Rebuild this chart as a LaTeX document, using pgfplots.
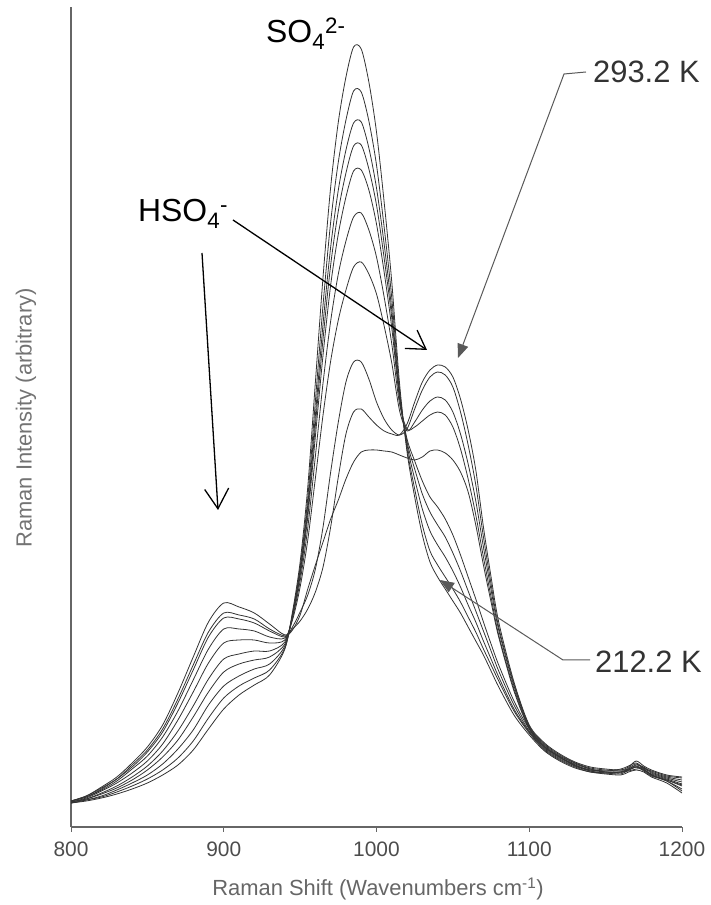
\documentclass[border=0pt]{standalone}
\usepackage{fontspec}
\setmainfont{Liberation Sans}
\usepackage{pgfplots}
\pgfplotsset{compat=1.18}
\usepackage{pgfplotstable}
\usetikzlibrary{arrows.meta}

\pgfplotstableread{
x k0 k1 k2 k3 k4 k5 k6 k7 k8 k9
800 24 24 24 25 25 25 26 26 26 26
810 26 27 27 28 28 29 30 30 31 31
820 29 30 31 33 34 36 37 38 40 39
830 33 35 37 39 41 44 46 48 50 48
840 38 41 44 47 50 54 58 60 64 62
850 44 48 52 57 61 66 71 75 80 77
860 52 57 63 70 76 83 90 95 102 98
870 62 69 78 87 96 107 116 124 134 128
880 77 86 97 110 121 135 147 157 170 162
890 98 109 122 135 148 164 178 190 205 195
900 118 129 141 155 168 184 198 209 224 214
910 132 141 151 163 173 187 198 208 220 212
920 142 149 158 167 176 187 196 204 214 208
930 152 157 163 170 176 184 190 196 203 198
940 178 179 181 183 185 187 189 190 192 191
945 215 213 212 211 211 209 207 200 198 197
950 265 260 257 254 251 246 240 215 206 212
955 340 329 322 316 310 299 287 232 218 238
960 445 426 412 402 391 371 349 258 235 262
965 550 522 503 488 472 444 412 300 260 285
970 640 605 580 562 542 506 466 355 300 308
975 705 665 637 616 593 553 507 405 350 327
980 750 707 677 654 630 586 537 445 393 348
985 780 736 704 681 656 610 560 465 415 365
990 778 735 705 682 657 614 565 465 418 375
995 745 706 679 658 637 597 553 448 410 377
1000 695 662 639 622 603 570 533 425 402 377
1005 625 600 583 569 555 530 501 408 396 376
1010 545 529 517 509 499 483 464 397 393 375
1015 445 439 435 432 429 424 417 392 392 372
1020 375 378 382 385 388 398 396 398 403 369
1025 330 338 348 358 366 400 405 418 425 367
1030 292 302 318 333 346 406 417 437 445 370
1035 265 276 296 315 330 412 426 450 457 376
1040 250 262 282 302 320 415 430 455 462 377
1045 238 250 270 290 308 412 427 452 460 374
1050 226 238 256 274 292 400 415 440 450 367
1055 214 225 240 256 272 378 393 415 428 355
1060 200 210 222 236 250 348 363 382 397 335
1065 186 195 205 216 228 312 326 342 357 302
1070 172 178 186 196 205 270 280 290 300 262
1075 156 162 168 176 183 230 237 243 250 225
1080 140 146 150 156 162 192 197 200 205 190
1090 112 116 118 122 126 138 141 143 145 136
1100 92 94 95 96 98 99 100 101 102 98
1110 76 77 78 79 80 81 82 83 84 80
1120 66 67 68 69 70 70 71 72 73 70
1130 59 60 61 62 62 63 64 64 65 61
1140 55 55 57 56 57 58 59 58 60 56
1150 53 54 55 54 56 55 57 56 58 54
1160 52 53 55 55 56 54 57 58 57 55
1165 55 57 56 58 57 59 58 61 60 57
1170 57 60 58 61 60 63 62 64 66 60
1175 55 56 58 57 59 58 60 59 61 57
1180 50 51 52 53 54 52 55 56 57 52
1190 44 46 47 48 49 47 50 51 52 46
1200 34 36 41 43 45 42 47 49 50 38
}\ramandata

\begin{document}
\begin{tikzpicture}
\path[use as bounding box] (0,0) rectangle (711bp,905bp);
\begin{axis}[
  at={(71bp,78bp)}, anchor=south west,
  scale only axis, width=611bp, height=820bp,
  xmin=800, xmax=1200, ymin=0, ymax=820,
  axis x line*=bottom, axis y line*=left,
  xtick={800,900,1000,1100,1200},
  xticklabels={800,900,1000,1100,1200},
  ytick=\empty,
  tick align=outside, major tick length=5bp,
  every tick/.style={black!60, line width=1bp},
  axis line style={black!60, line width=1.2bp},
  xticklabel style={font=\fontsize{21}{25}\selectfont, text=black!70, yshift=-6bp},
  spec/.style={black!80, solid, line width=0.8bp, smooth, tension=0.5, mark=none},
]
\addplot[spec] table[x=x,y=k0]{\ramandata};
\addplot[spec] table[x=x,y=k1]{\ramandata};
\addplot[spec] table[x=x,y=k2]{\ramandata};
\addplot[spec] table[x=x,y=k3]{\ramandata};
\addplot[spec] table[x=x,y=k4]{\ramandata};
\addplot[spec] table[x=x,y=k5]{\ramandata};
\addplot[spec] table[x=x,y=k6]{\ramandata};
\addplot[spec] table[x=x,y=k7]{\ramandata};
\addplot[spec] table[x=x,y=k8]{\ramandata};
\addplot[spec] table[x=x,y=k9]{\ramandata};
\end{axis}
\begin{scope}[x=1bp,y=-1bp,shift={(0,905bp)}]
  \node[rotate=90, font=\fontsize{22}{26}\selectfont, text=black!55] at (26,418) {Raman Intensity (arbitrary)};
  \node[font=\fontsize{22}{26}\selectfont, text=black!60] at (378,889) {Raman Shift (Wavenumbers cm\textsuperscript{-1})};
  \node[anchor=base west, inner sep=0, font=\fontsize{32}{38}\selectfont] at (266,43) {SO\textsubscript{4}\textsuperscript{2-}};
  \node[anchor=base west, inner sep=0, font=\fontsize{32}{38}\selectfont] at (138,222) {HSO\textsubscript{4}\textsuperscript{-}};
  \draw[black, line width=1.3bp, -{Straight Barb[length=20bp,width=24bp,line width=1.3bp]}] (202,253) -- (218,510);
  \draw[black, line width=1.3bp, -{Straight Barb[length=18bp,width=22bp,line width=1.3bp]}] (233,220) -- (427,350);
  \draw[black!65, line width=1bp, -{Triangle[length=14bp,width=11bp]}] (586,72) -- (564,74) -- (458,358);
  \draw[black!65, line width=1bp, -{Triangle[length=14bp,width=11bp]}] (590,660) -- (563,660) -- (440,580);
  \node[anchor=base west, inner sep=0, text=black!80, font=\fontsize{31}{37}\selectfont] at (593,83) {293.2 K};
  \node[anchor=base west, inner sep=0, text=black!80, font=\fontsize{31}{37}\selectfont] at (595,673) {212.2 K};
\end{scope}
\end{tikzpicture}
\end{document}
